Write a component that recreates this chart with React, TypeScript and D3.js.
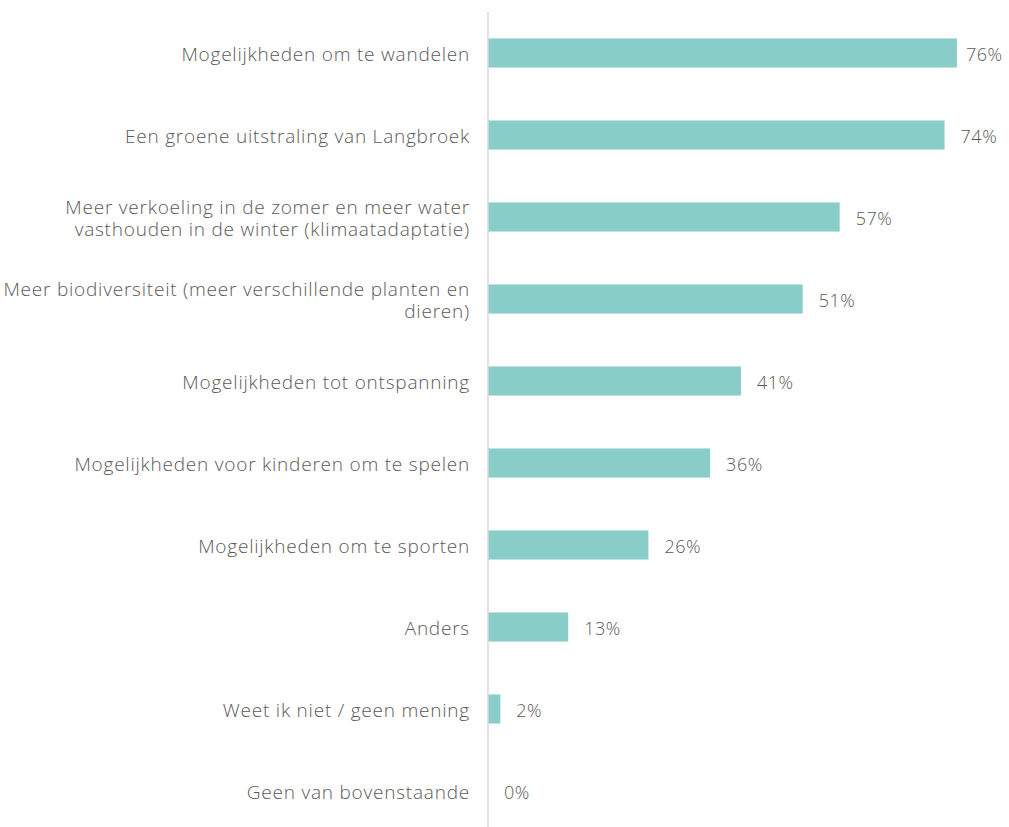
import React from "react";
import * as d3 from "d3";

const categories: string[][] = [
  ["Mogelijkheden om te wandelen"],
  ["Een groene uitstraling van Langbroek"],
  ["Meer verkoeling in de zomer en meer water", "vasthouden in de winter (klimaatadaptatie)"],
  ["Meer biodiversiteit (meer verschillende planten en", "dieren)"],
  ["Mogelijkheden tot ontspanning"],
  ["Mogelijkheden voor kinderen om te spelen"],
  ["Mogelijkheden om te sporten"],
  ["Anders"],
  ["Weet ik niet / geen mening"],
  ["Geen van bovenstaande"],
];
const values: number[] = [76, 74, 57, 51, 41, 36, 26, 13, 2, 0];

const W = 1009;
const H = 827;
const axisX = 488;
const FONT = "'Open Sans', sans-serif";

export default function App() {
  const idx = values.map((_, i) => i);
  const y = d3.scaleBand<number>().domain(idx).range([12, 832]).paddingInner(0.645).paddingOuter(0.3225);
  const x = d3.scaleLinear().domain([0, 100]).range([axisX, axisX + 617]);
  const bw = y.bandwidth();
  return (
    <svg width={W} height={H} style={{ position: "absolute", left: 0, top: 0 }} fontFamily={FONT}>
      <rect width={W} height={H} fill="#fff" />
      {idx.map((i) => {
        const cy = (y(i) as number) + bw / 2;
        const lines = categories[i];
        const lh = 22;
        const end = x(values[i]);
        return (
          <g key={i}>
            {values[i] > 0 && (
              <rect x={axisX} y={y(i)} width={end - axisX} height={bw} fill="#89cdc9" />
            )}
            <text x={470} y={cy} textAnchor="end" fontSize={19} fill="#595959" fontWeight={300} letterSpacing={0.78}>
              {lines.map((l, k) => (
                <tspan key={k} x={470} y={cy + (k - (lines.length - 1) / 2) * lh} dy="0.44em">
                  {l}
                </tspan>
              ))}
            </text>
            <text x={Math.min(end + 16, 966)} y={cy} dy="0.44em" fontSize={18} fill="#595959" fontWeight={300} letterSpacing={0.5}>
              {values[i]}%
            </text>
          </g>
        );
      })}
      <line x1={axisX} x2={axisX} y1={12} y2={H} stroke="#d9d9d9" strokeWidth={1.5} />
    </svg>
  );
}
